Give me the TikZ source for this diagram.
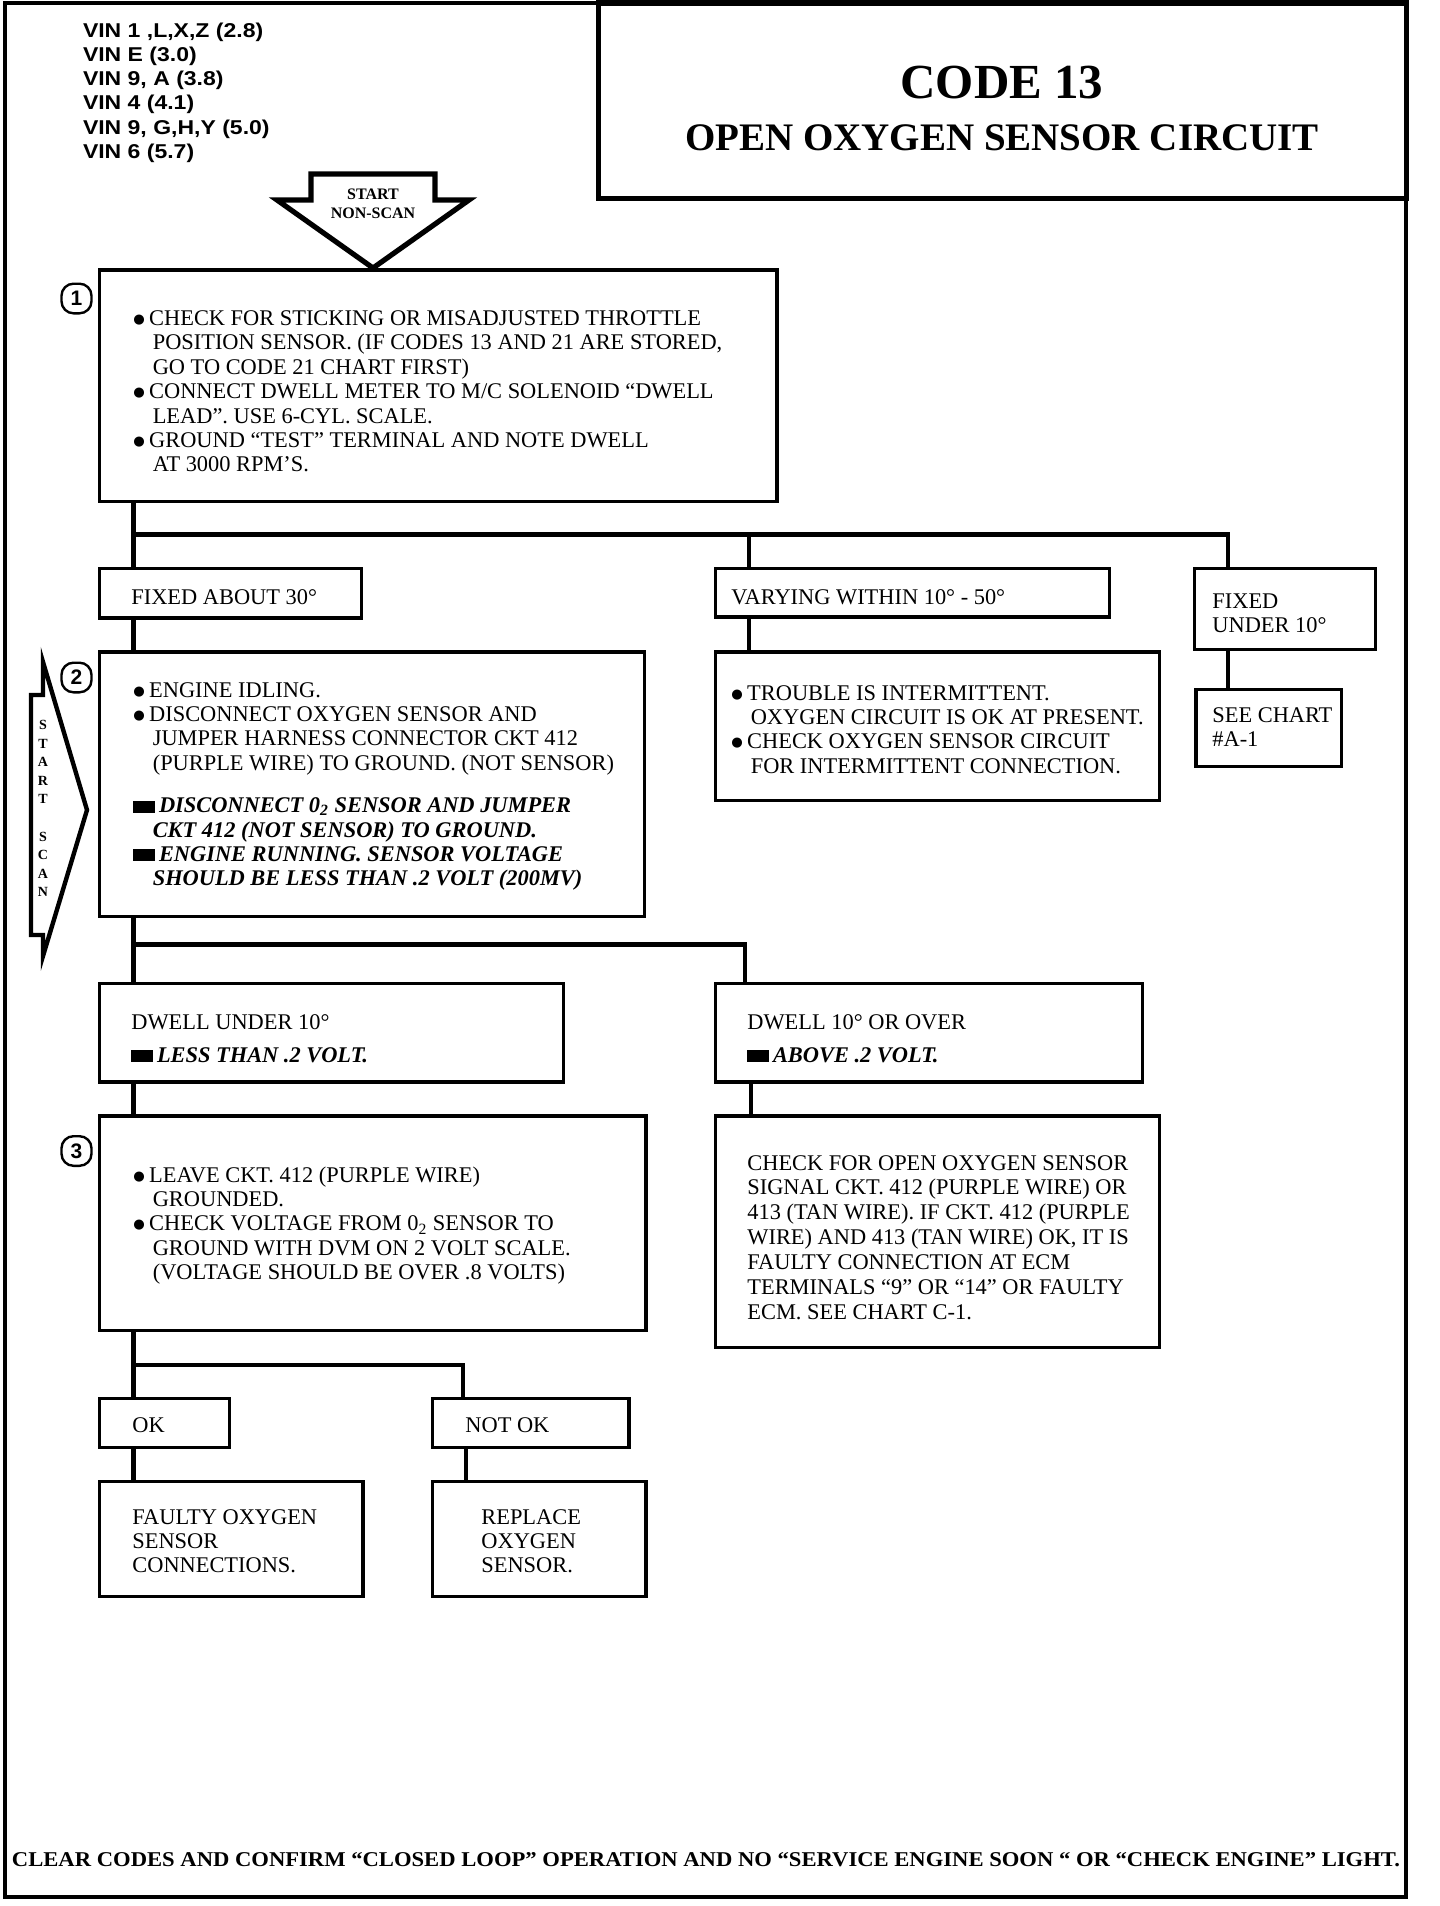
\documentclass[tikz,border=0pt]{standalone}
\usepackage{fontspec}
\usepackage{graphicx}
\setmainfont{Liberation Serif}
\newfontfamily\vinfont{Liberation Sans}
\newfontfamily\dejavu{DejaVu Sans}
\usetikzlibrary{fit}
\newcommand{\tb}[1]{\begin{tabular}[t]{@{}l@{}}#1\end{tabular}}
\newcommand{\bul}{\makebox[7.9pt][l]{\raisebox{1pt}{\dejavu\fontsize{6.6}{6.6}\selectfont ●}}}
\newcommand{\ind}{\hspace*{9.7pt}}
\newcommand{\sqb}{\rule{11pt}{6pt}\hspace{1.8pt}}
\newcommand{\Otwo}{0\textsubscript{2}}
\newcommand{\bi}[1]{{\bfseries\itshape #1}}
\begin{document}
\begin{tikzpicture}[x=0.5pt,y=-0.5pt,
  box/.style={draw, line width=1.6pt, inner sep=0pt},
  conn/.style={line width=2.3pt, line join=miter},
  txt/.style={anchor=base west, inner sep=0pt, font=\fontsize{11.2}{12.2}\selectfont},
  circ/.style={draw, rounded corners=6pt, line width=1.2pt, minimum width=15pt, minimum height=14.8pt, inner sep=0pt, font=\vinfont\bfseries\fontsize{10.5}{11}\selectfont},
  lbl/.style={anchor=base, inner sep=0pt}]
\useasboundingbox (0,0) rectangle (1440,1906);
\fill[white] (0,0) rectangle (1440,1906);
% frame and title
\node[draw, line width=2.2pt, inner sep=0pt, fit={(5,3) (1406,1897)}] (frame) {};
\node[draw, line width=2.5pt, inner sep=0pt, fit={(598,3) (1406,198)}] (title) {};
\node[lbl, font=\bfseries\fontsize{24.5}{28}\selectfont] (code) at (1002,98) {CODE 13};
\node[lbl, font=\bfseries\fontsize{19.5}{22}\selectfont] (sub) at (1002,150.5) {OPEN OXYGEN SENSOR CIRCUIT};
% VIN list
\node[anchor=base west, inner sep=0pt, font=\vinfont\bfseries\fontsize{10}{12.15}\selectfont] (vin) at (82.6,37)
  {\scalebox{1.15}[1]{\tb{VIN 1 ,L,X,Z (2.8)\\VIN E (3.0)\\VIN 9, A (3.8)\\VIN 4 (4.1)\\VIN 9, G,H,Y (5.0)\\VIN 6 (5.7)}}};
% start non-scan arrow
\draw[line width=2.6pt, line join=miter] (311,174) -- (435,174) -- (435,200) -- (469,200) -- (373,268) -- (277,200) -- (311,200) -- cycle;
\node[lbl, font=\bfseries\fontsize{8}{9}\selectfont] (st) at (373,199) {START};
\node[lbl, font=\bfseries\fontsize{8}{9}\selectfont] (ns) at (373,218) {NON-SCAN};
% start scan arrow
\draw[line width=2.2pt, line join=miter, miter limit=25] (43,662) -- (87,810) -- (43,956) -- (43,935) -- (31,935) -- (31,695) -- (43,695) -- cycle;
\node[lbl, font=\bfseries\fontsize{7}{9.25}\selectfont] (scan) at (43,729.5)
  {\begin{tabular}[t]{@{}c@{}}S\\T\\A\\R\\T\\[9.5pt]S\\C\\A\\N\end{tabular}};
% boxes
\node[box, fit={(99.6,270) (777,501.5)}] (b1) {};
\node[box, fit={(99.6,568.2) (361.8,618)}] (f30) {};
\node[box, fit={(715.2,568.2) (1109.8,617)}] (var) {};
\node[box, fit={(1194.8,568.2) (1375.7,649.6)}] (fu) {};
\node[box, fit={(1196,689.7) (1341.7,766.2)}] (sc) {};
\node[box, fit={(99.6,652) (644.7,916.7)}] (b2) {};
\node[box, fit={(715.2,652) (1159.6,800.2)}] (tr) {};
\node[box, fit={(99.6,983.5) (563.4,1081.9)}] (du) {};
\node[box, fit={(715.2,983.5) (1142.6,1081.9)}] (dov) {};
\node[box, fit={(99.6,1115.9) (646,1330.8)}] (b3) {};
\node[box, fit={(715.2,1115.9) (1159.6,1347.8)}] (co) {};
\node[box, fit={(99.6,1398.8) (229.5,1447.3)}] (ok) {};
\node[box, fit={(432.3,1398.8) (629,1447.3)}] (nok) {};
\node[box, fit={(99.6,1481.3) (363,1596.7)}] (fa) {};
\node[box, fit={(432.3,1481.3) (646,1596.7)}] (rep) {};
% step circles
\node[circ] (c1) at (76.5,298.5) {1};
\node[circ] (c2) at (76.5,677.5) {2};
\node[circ] (c3) at (76.5,1151) {3};
% connector guide coordinates
\coordinate (xA) at (133.6,0);
\coordinate (xB) at (749,0);
\coordinate (xC) at (1228,0);
\coordinate (xD) at (745,0);
\coordinate (xE) at (751,0);
\coordinate (xF) at (463,0);
\coordinate (xG) at (466,0);
\coordinate (h1) at (0,534.2);
\coordinate (h2) at (0,944.6);
\coordinate (h3) at (0,1364.8);
% connectors
\draw[conn] (b1.south -| xA) -- (f30.north -| xA);
\draw[conn] (h1 -| xA) -- (h1 -| xC) -- (fu.north -| xC);
\draw[conn] (h1 -| xB) -- (var.north -| xB);
\draw[conn] (f30.south -| xA) -- (b2.north -| xA);
\draw[conn] (var.south -| xB) -- (tr.north -| xB);
\draw[conn] (fu.south -| xC) -- (sc.north -| xC);
\draw[conn] (b2.south -| xA) -- (du.north -| xA);
\draw[conn] (h2 -| xA) -- (h2 -| xD) -- (dov.north -| xD);
\draw[conn] (du.south -| xA) -- (b3.north -| xA);
\draw[conn] (dov.south -| xE) -- (co.north -| xE);
\draw[conn] (b3.south -| xA) -- (ok.north -| xA);
\draw[conn] (h3 -| xA) -- (h3 -| xF) -- (nok.north -| xF);
\draw[conn] (ok.south -| xA) -- (fa.north -| xA);
\draw[conn] (nok.south -| xG) -- (rep.north -| xG);
% texts
\node[txt] (t1) at (133,325.4) {\tb{\bul CHECK FOR STICKING OR MISADJUSTED THROTTLE\\
\ind POSITION SENSOR. (IF CODES 13 AND 21 ARE STORED,\\
\ind GO TO CODE 21 CHART FIRST)\\
\bul CONNECT DWELL METER TO M/C SOLENOID “DWELL\\
\ind LEAD”. USE 6-CYL. SCALE.\\
\bul GROUND “TEST” TERMINAL AND NOTE DWELL\\
\ind AT 3000 RPM’S.}};
\node[txt] (t30) at (131,604) {FIXED ABOUT 30°};
\node[txt] (tvar) at (731,604) {VARYING WITHIN 10° - 50°};
\node[txt] (tfu) at (1212,608.5) {\tb{FIXED\\UNDER 10°}};
\node[txt] (tsc) at (1212,722) {\tb{SEE CHART\\\#A-1}};
\node[txt] (t2) at (133,697) {\tb{\bul ENGINE IDLING.\\
\bul DISCONNECT OXYGEN SENSOR AND\\
\ind JUMPER HARNESS CONNECTOR CKT 412\\
\ind (PURPLE WIRE) TO GROUND. (NOT SENSOR)\\[9pt]
\sqb\bi{DISCONNECT \Otwo\ SENSOR AND JUMPER}\\
\ind\bi{CKT 412 (NOT SENSOR) TO GROUND.}\\
\sqb\bi{ENGINE RUNNING. SENSOR VOLTAGE}\\
\ind\bi{SHOULD BE LESS THAN .2 VOLT (200MV)}}};
\node[txt] (ttr) at (731,700) {\tb{\bul TROUBLE IS INTERMITTENT.\\
\ind OXYGEN CIRCUIT IS OK AT PRESENT.\\
\bul CHECK OXYGEN SENSOR CIRCUIT\\
\ind FOR INTERMITTENT CONNECTION.}};
\node[txt] (tdu) at (131,1029) {\tb{DWELL UNDER 10°\\[4.3pt]\sqb\bi{LESS THAN .2 VOLT.}}};
\node[txt] (tdo) at (747,1029) {\tb{DWELL 10° OR OVER\\[4.3pt]\sqb\bi{ABOVE .2 VOLT.}}};
\node[txt] (t3) at (133,1182) {\tb{\bul LEAVE CKT. 412 (PURPLE WIRE)\\
\ind GROUNDED.\\
\bul CHECK VOLTAGE FROM \Otwo\ SENSOR TO\\
\ind GROUND WITH DVM ON 2 VOLT SCALE.\\
\ind (VOLTAGE SHOULD BE OVER .8 VOLTS)}};
\node[txt, font=\fontsize{11.2}{12.45}\selectfont] (tco) at (747,1170) {\tb{CHECK FOR OPEN OXYGEN SENSOR\\
SIGNAL CKT. 412 (PURPLE WIRE) OR\\
413 (TAN WIRE). IF CKT. 412 (PURPLE\\
WIRE) AND 413 (TAN WIRE) OK, IT IS\\
FAULTY CONNECTION AT ECM\\
TERMINALS “9” OR “14” OR FAULTY\\
ECM. SEE CHART C-1.}};
\node[txt] (tok) at (132,1432) {OK};
\node[txt] (tnok) at (465,1432) {NOT OK};
\node[txt] (tfa) at (132,1524) {\tb{FAULTY OXYGEN\\SENSOR\\CONNECTIONS.}};
\node[txt] (trep) at (481,1524) {\tb{REPLACE\\OXYGEN\\SENSOR.}};
\node[lbl] (clear) at (706,1866) {\resizebox{694pt}{7pt}{\bfseries CLEAR CODES AND CONFIRM “CLOSED LOOP” OPERATION AND NO “SERVICE ENGINE SOON “ OR “CHECK ENGINE” LIGHT.}};
\end{tikzpicture}
\end{document}
